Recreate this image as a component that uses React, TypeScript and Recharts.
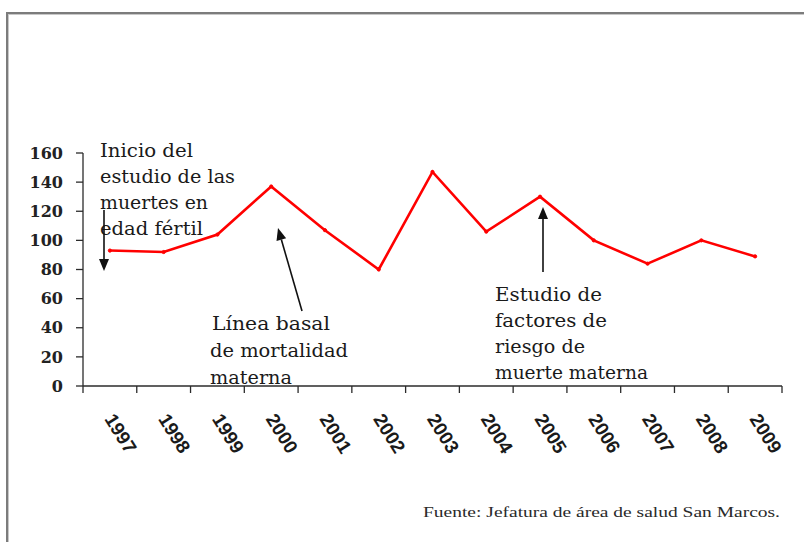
import React from 'react';
import { LineChart, Line, XAxis, YAxis } from 'recharts';

const years = ['1997', '1998', '1999', '2000', '2001', '2002', '2003', '2004', '2005', '2006', '2007', '2008', '2009'];
const deaths = [93, 92, 104, 137, 107, 80, 147, 106, 130, 100, 84, 100, 89];
const yTicks = [0, 20, 40, 60, 80, 100, 120, 140, 160];

const noteInicio = ['Inicio del', 'estudio de las', 'muertes en', 'edad fértil'];
const noteBasal = [' Línea basal', 'de mortalidad', 'materna'];
const noteEstudio = ['Estudio de', 'factores de', 'riesgo de', 'muerte materna'];
const source = 'Fuente: Jefatura de área de salud San Marcos.';

const data = years.map((year, i) => ({ year, deaths: deaths[i] }));

const W = 804;
const H = 542;
const TICK = 7;
const AXIS_COLOR = '#2b2b2b';

const XTick = (props: any) => {
  const { x, y, payload, index, width, visibleTicksCount } = props;
  const half = typeof payload?.offset === 'number' && payload.offset > 0 ? payload.offset : width / visibleTicksCount / 2;
  const axisY = y - TICK;
  const lx = x - 6;
  const ly = axisY + 33;
  return (
    <g>
      <line x1={x - half} x2={x - half} y1={axisY} y2={axisY + TICK} stroke={AXIS_COLOR} strokeWidth={1.3} />
      {index === visibleTicksCount - 1 && (
        <line x1={x + half} x2={x + half} y1={axisY} y2={axisY + TICK} stroke={AXIS_COLOR} strokeWidth={1.3} />
      )}
      <text
        x={lx}
        y={ly}
        transform={`rotate(58 ${lx} ${ly})`}
        textAnchor="start"
        fontFamily="'Liberation Sans', Arial, sans-serif"
        fontWeight="bold"
        fontSize={19}
        fill="#1a1a1a"
      >
        {payload.value}
      </text>
    </g>
  );
};

const Arrow = ({ x1, y1, x2, y2 }: { x1: number; y1: number; x2: number; y2: number }) => {
  const dx = x2 - x1;
  const dy = y2 - y1;
  const len = Math.sqrt(dx * dx + dy * dy);
  const ux = dx / len;
  const uy = dy / len;
  const hl = 12;
  const hw = 5;
  const bx = x2 - ux * hl;
  const by = y2 - uy * hl;
  const pts = `${x2},${y2} ${bx - uy * hw},${by + ux * hw} ${bx + uy * hw},${by - ux * hw}`;
  return (
    <g>
      <line x1={x1} y1={y1} x2={bx} y2={by} stroke="#111" strokeWidth={1.6} />
      <polygon points={pts} fill="#111" />
    </g>
  );
};

const NoteText = ({ lines, x, y0, step, widths }: { lines: string[]; x: number[]; y0: number; step: number; widths: number[] }) => (
  <g>
    {lines.map((t, i) => (
      <text
        key={i}
        x={x[i]}
        y={y0 + i * step}
        fontFamily="'DejaVu Serif', serif"
        fontSize={18.5}
        fill="#1a1a1a"
        textLength={widths[i]}
        lengthAdjust="spacingAndGlyphs"
      >
        {t}
      </text>
    ))}
  </g>
);

export default function App() {
  return (
    <div style={{ position: 'absolute', left: 0, top: 0, width: W, height: H, background: '#fff', overflow: 'hidden' }}>
      <div
        style={{
          position: 'absolute',
          left: 6,
          top: 12,
          width: W,
          height: H,
          borderTop: '2px solid #7c7c7c',
          borderLeft: '2px solid #7c7c7c',
          boxShadow: 'inset 1px 1px 0 #c8c8c8',
        }}
      />
      <div style={{ position: 'absolute', left: 0, top: 0 }}>
        <LineChart width={W} height={H} data={data} margin={{ top: 153, right: 22, bottom: 76, left: 23 }}>
          <XAxis
            dataKey="year"
            type="category"
            scale="band"
            height={80}
            interval={0}
            tickSize={TICK}
            tickMargin={0}
            tickLine={false}
            axisLine={{ stroke: AXIS_COLOR, strokeWidth: 1.3 }}
            tick={<XTick />}
          />
          <YAxis
            width={60}
            domain={[0, 160]}
            ticks={yTicks}
            interval={0}
            tickSize={TICK}
            tickMargin={13}
            axisLine={{ stroke: AXIS_COLOR, strokeWidth: 1.3 }}
            tickLine={{ stroke: AXIS_COLOR, strokeWidth: 1.3 }}
            tick={{ fontFamily: "'DejaVu Serif', serif", fontWeight: 'bold', fontSize: 16, fill: '#222' }}
          />
          <Line
            dataKey="deaths"
            type="linear"
            stroke="#ff0000"
            strokeWidth={2.6}
            dot={{ r: 1.6, fill: '#ff0000', stroke: '#ff0000', strokeWidth: 1 }}
            isAnimationActive={false}
          />
        </LineChart>
      </div>
      <svg width={W} height={H} style={{ position: 'absolute', left: 0, top: 0, pointerEvents: 'none' }}>
        <NoteText lines={noteInicio} x={[100, 100, 100, 100]} y0={157} step={26} widths={[93, 135, 108, 103]} />
        <NoteText lines={noteBasal} x={[212, 210, 210]} y0={330} step={27} widths={[118, 138, 82]} />
        <NoteText lines={noteEstudio} x={[495, 495, 495, 495]} y0={301} step={26} widths={[107, 112, 90, 153]} />
        <Arrow x1={104} y1={210} x2={104} y2={271} />
        <Arrow x1={302} y1={311} x2={278} y2={228} />
        <Arrow x1={543} y1={272} x2={543} y2={207} />
        <text
          x={423}
          y={517}
          fontFamily="'Liberation Serif', 'Times New Roman', serif"
          fontSize={15}
          fill="#2a2a2a"
          textLength={357}
          lengthAdjust="spacingAndGlyphs"
        >
          {source}
        </text>
      </svg>
    </div>
  );
}
